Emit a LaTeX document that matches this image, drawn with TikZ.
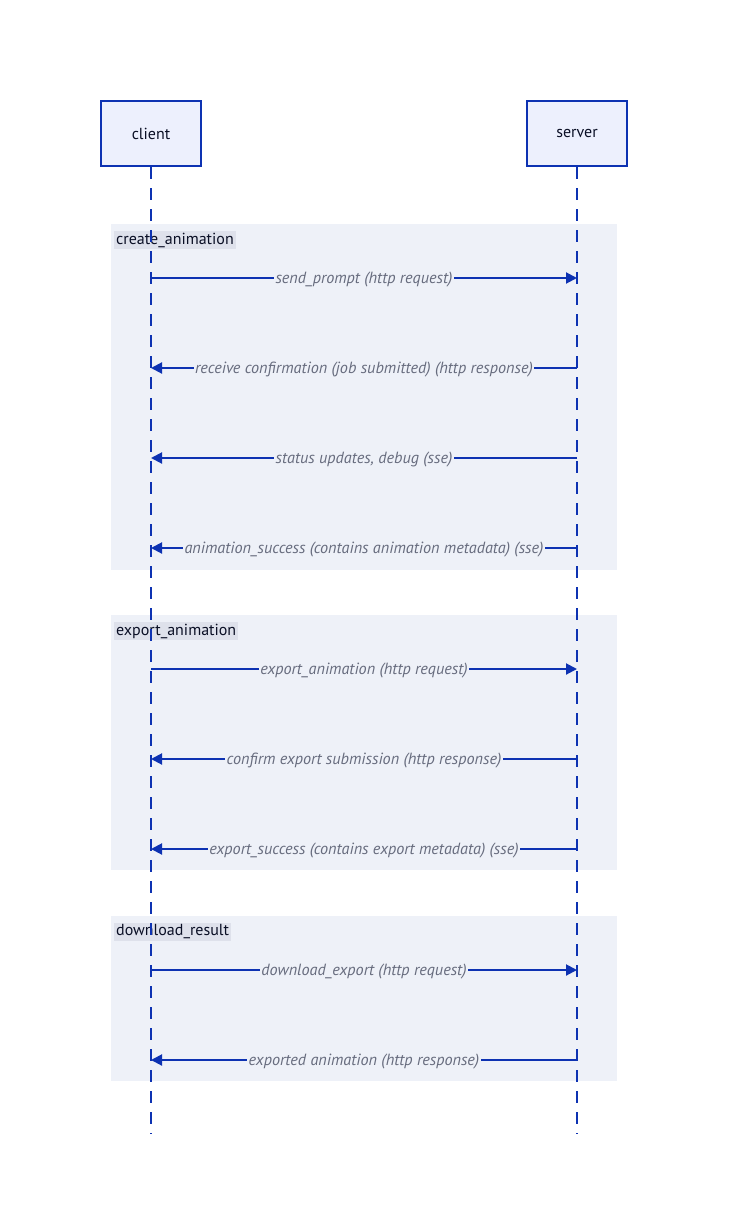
\documentclass[tikz,border=0pt]{standalone}
\usepackage{fontspec}
\setmainfont{PT Sans}
\usetikzlibrary{arrows.meta}
\definecolor{bone}{HTML}{0D32B2}
\definecolor{bsix}{HTML}{EDF0FD}
\definecolor{nsix}{HTML}{EEF1F8}
\definecolor{nfive}{HTML}{DEE1EB}
\definecolor{ntwo}{HTML}{676C7E}
\definecolor{none}{HTML}{0A0F25}
\tikzset{
  actor/.style={draw=bone, fill=bsix, line width=2pt, minimum width=100pt, minimum height=65pt, inner sep=0pt, text=none, font=\fontsize{16}{19}\selectfont},
  lifeline/.style={draw=bone, line width=2pt, dash pattern=on 12pt off 9pt},
  grp/.style={fill=nsix, draw=none},
  grplabel/.style={fill=nfive, text=none, inner xsep=2pt, inner ysep=2pt, anchor=west, font=\fontsize{16}{19}\selectfont},
  msg/.style={draw=bone, line width=2pt, -{Triangle[length=11pt,width=11pt]}},
  msglabel/.style={fill=nsix, text=ntwo, inner sep=1.5pt, yshift=-2pt, font=\itshape\fontsize{16.2}{19}\selectfont},
}
\begin{document}
\begin{tikzpicture}[x=1pt,y=-1pt]
\useasboundingbox (0,0) rectangle (728,1231);
% groups
\fill[grp] (111,224) rectangle (617,570);
\fill[grp] (111,615) rectangle (617,870);
\fill[grp] (111,916) rectangle (617,1081);
\node[grplabel] (g1) at (114,240) {create\_animation};
\node[grplabel] (g2) at (114,631) {export\_animation};
\node[grplabel] (g3) at (114,932) {download\_result};
% actors
\node[actor] (client) at (151,133.5) {client};
\node[actor] (server) at (577,133.5) {server};
\coordinate (cend) at (151,1134);
\coordinate (send) at (577,1134);
\draw[lifeline] (client.south) -- (cend);
\draw[lifeline] (server.south) -- (send);
% messages
\foreach \y/\dir/\txt/\n in {
  278/r/{send\_prompt (http request)}/m1,
  368/l/{receive confirmation (job submitted) (http response)}/m2,
  458/l/{status updates, debug (sse)}/m3,
  548/l/{animation\_success (contains animation metadata) (sse)}/m4,
  669/r/{export\_animation (http request)}/m5,
  759/l/{confirm export submission (http response)}/m6,
  849/l/{export\_success (contains export metadata) (sse)}/m7,
  970/r/{download\_export (http request)}/m8,
  1060/l/{exported animation (http response)}/m9}{
  \coordinate (\n c) at (151,\y);
  \coordinate (\n s) at (577,\y);
  \if r\dir
    \draw[msg] (\n c) -- (\n s) node[midway, msglabel] (\n) {\txt};
  \else
    \draw[msg] (\n s) -- (\n c) node[midway, msglabel] (\n) {\txt};
  \fi
}
\end{tikzpicture}
\end{document}
